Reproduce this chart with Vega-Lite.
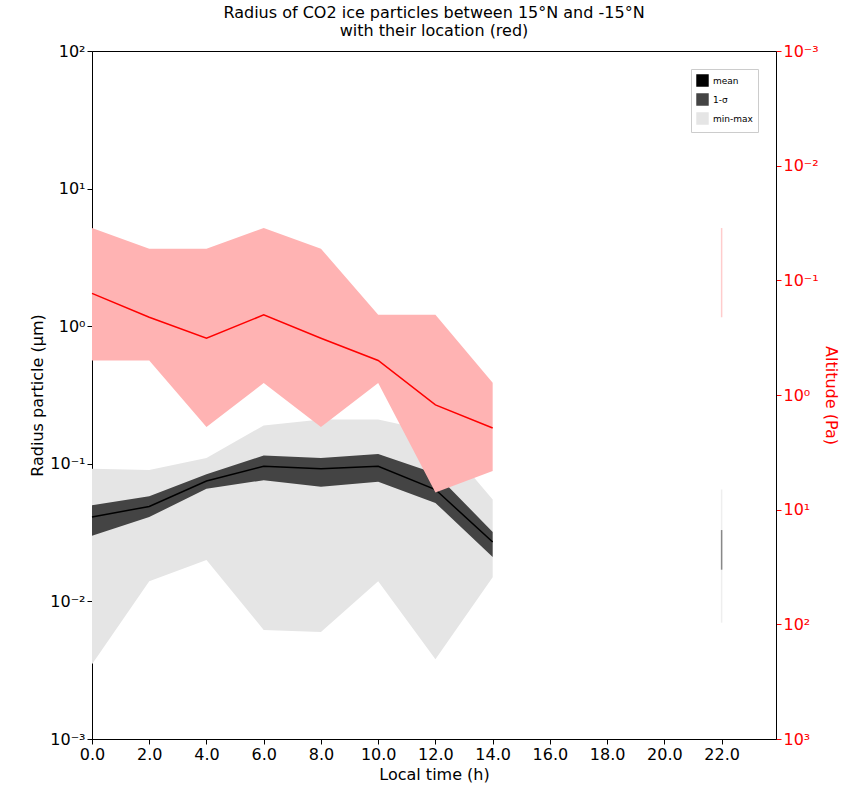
{
  "$schema": "https://vega.github.io/schema/vega-lite/v6.json",
  "width": 684,
  "height": 688,
  "padding": {"left": 29, "top": 5, "right": 2, "bottom": 5},
  "title": {"text": ["Radius of CO2 ice particles between 15°N and -15°N", "with their location (red)"], "fontSize": 16, "fontWeight": "normal", "font": "DejaVu Sans", "offset": 4},
  "datasets": {
    "radius": [
      {"lt": 0, "mean": 0.041, "slo": 0.030, "shi": 0.050, "mn": 0.0035, "mx": 0.092},
      {"lt": 2, "mean": 0.049, "slo": 0.041, "shi": 0.058, "mn": 0.014, "mx": 0.090},
      {"lt": 4, "mean": 0.075, "slo": 0.066, "shi": 0.084, "mn": 0.020, "mx": 0.110},
      {"lt": 6, "mean": 0.096, "slo": 0.076, "shi": 0.115, "mn": 0.0062, "mx": 0.190},
      {"lt": 8, "mean": 0.092, "slo": 0.068, "shi": 0.110, "mn": 0.0060, "mx": 0.210},
      {"lt": 10, "mean": 0.096, "slo": 0.074, "shi": 0.118, "mn": 0.014, "mx": 0.210},
      {"lt": 12, "mean": 0.065, "slo": 0.052, "shi": 0.085, "mn": 0.0038, "mx": 0.170},
      {"lt": 14, "mean": 0.027, "slo": 0.021, "shi": 0.032, "mn": 0.015, "mx": 0.055}
    ],
    "radius22": [
      {"lt": 22, "mean": 0.024, "slo": 0.017, "shi": 0.033, "mn": 0.007, "mx": 0.065}
    ],
    "alt": [
      {"lt": 0, "mean": 0.13, "lo": 0.035, "hi": 0.5},
      {"lt": 2, "mean": 0.21, "lo": 0.053, "hi": 0.5},
      {"lt": 4, "mean": 0.32, "lo": 0.053, "hi": 1.9},
      {"lt": 6, "mean": 0.20, "lo": 0.035, "hi": 0.785},
      {"lt": 8, "mean": 0.32, "lo": 0.053, "hi": 1.9},
      {"lt": 10, "mean": 0.50, "lo": 0.2, "hi": 0.785},
      {"lt": 12, "mean": 1.22, "lo": 0.2, "hi": 7.1},
      {"lt": 14, "mean": 1.94, "lo": 0.78, "hi": 4.6}
    ],
    "alt22": [
      {"lt": 22, "lo": 0.035, "hi": 0.21}
    ]
  },
  "encoding": {
    "x": {"field": "lt", "type": "quantitative", "scale": {"domain": [0, 23.9], "nice": false, "zero": false},
      "axis": {"title": "Local time (h)", "values": [0, 2, 4, 6, 8, 10, 12, 14, 16, 18, 20, 22], "format": ".1f", "grid": false, "labelFlush": false}}
  },
  "layer": [
    {
      "layer": [
        {"data": {"name": "radius"}, "mark": {"type": "area", "opacity": 1},
          "encoding": {"y": {"field": "mn", "type": "quantitative", "scale": {"type": "log", "domain": [0.001, 100], "nice": false},
            "axis": {"title": "Radius particle (µm)", "values": [0.001, 0.01, 0.1, 1, 10, 100], "grid": false, "labelFlush": false, "labelExpr": "['10⁻³','10⁻²','10⁻¹','10⁰','10¹','10²'][round(log(datum.value)/LN10)+3]"}},
            "y2": {"field": "mx"}, "color": {"datum": "min-max", "scale": {"domain": ["mean", "1-σ", "min-max"], "range": ["black", "#444444", "#e5e5e5"]}}}},
        {"data": {"name": "radius"}, "mark": {"type": "area"},
          "encoding": {"y": {"field": "slo", "type": "quantitative"}, "y2": {"field": "shi"}, "color": {"datum": "1-σ"}}},
        {"data": {"name": "radius"}, "mark": {"type": "line", "strokeWidth": 1.5},
          "encoding": {"y": {"field": "mean", "type": "quantitative"}, "color": {"datum": "mean"}}},
        {"data": {"name": "radius22"}, "mark": {"type": "rule", "color": "#eeeeee", "strokeWidth": 1.5},
          "encoding": {"y": {"field": "mn", "type": "quantitative"}, "y2": {"field": "mx"}}},
        {"data": {"name": "radius22"}, "mark": {"type": "rule", "color": "#888888", "strokeWidth": 1.5},
          "encoding": {"y": {"field": "slo", "type": "quantitative"}, "y2": {"field": "shi"}}}
      ]
    },
    {
      "layer": [
        {"data": {"name": "alt"}, "mark": {"type": "area", "color": "#ffb3b3"},
          "encoding": {"y": {"field": "lo", "type": "quantitative", "scale": {"type": "log", "domain": [0.001, 1000], "nice": false, "reverse": true},
            "axis": {"orient": "right", "title": "Altitude (Pa)", "titleColor": "red", "labelColor": "red", "tickColor": "red", "domainColor": "black", "labelFlush": false, "titlePadding": 4, "values": [0.001, 0.01, 0.1, 1, 10, 100, 1000], "grid": false, "labelExpr": "['10⁻³','10⁻²','10⁻¹','10⁰','10¹','10²','10³'][round(log(datum.value)/LN10)+3]"}},
            "y2": {"field": "hi"}}},
        {"data": {"name": "alt"}, "mark": {"type": "line", "color": "red", "strokeWidth": 1.5},
          "encoding": {"y": {"field": "mean", "type": "quantitative"}}},
        {"data": {"name": "alt22"}, "mark": {"type": "rule", "color": "#ffcccc", "strokeWidth": 1.5},
          "encoding": {"y": {"field": "lo", "type": "quantitative"}, "y2": {"field": "hi"}}}
      ]
    }
  ],
  "resolve": {"scale": {"y": "independent"}, "axis": {"y": "independent"}},
  "config": {
    "font": "DejaVu Sans",
    "view": {"stroke": "black"},
    "axis": {"labelFontSize": 16, "titleFontSize": 16, "titleFontWeight": "normal", "labelColor": "black", "domainColor": "black", "tickColor": "black", "labelFont": "DejaVu Sans", "titleFont": "DejaVu Sans"},
    "legend": {"orient": "top-right", "title": null, "symbolType": "square", "labelFontSize": 9, "strokeColor": "#cccccc", "padding": 5, "fillColor": "white", "symbolSize": 120}
  }
}
